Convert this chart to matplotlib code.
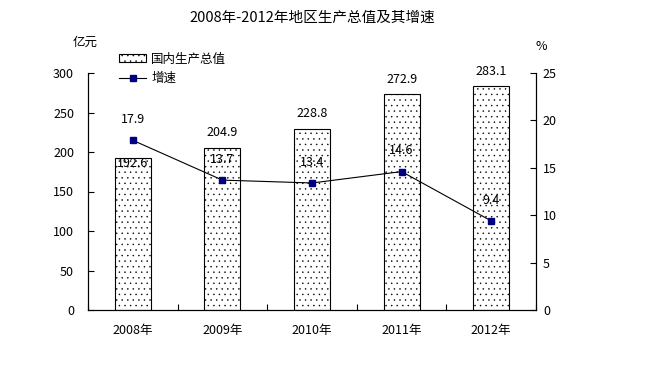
import matplotlib
matplotlib.use("Agg")
import matplotlib.pyplot as plt
import numpy as np
from matplotlib.patches import Patch
from matplotlib.lines import Line2D

plt.rcParams['font.family'] = ['Noto Sans CJK SC', 'DejaVu Sans']
plt.rcParams['hatch.linewidth'] = 0.3

years = ["2008年", "2009年", "2010年", "2011年", "2012年"]
gdp = [192.6, 204.9, 228.8, 272.9, 283.1]
growth = [17.9, 13.7, 13.4, 14.6, 9.4]
gdp_label_offsets = [-4, 11, 11, 11, 11]  # points

fig = plt.figure(figsize=(6.52, 3.68), dpi=100)
ax = fig.add_axes([88/652, 1-310/368, (536-88)/652, (310-73)/368])
x = np.arange(len(years))

ax.bar(x, gdp, width=0.4, facecolor='white', edgecolor='black', linewidth=0.8,
       hatch='...', zorder=2)
ax.set_xlim(-0.5, len(years)-0.5)
ax.set_ylim(0, 300)
ax.set_yticks(np.arange(0, 301, 50))
ax.set_xticks(x)
ax.set_xticklabels(years, fontsize=9)
ax.tick_params(axis='x', length=0, pad=10)
ax.set_xticks(np.arange(-0.5, len(years)), minor=True)
ax.tick_params(axis='x', which='minor', direction='in', length=4, width=0.8)
ax.tick_params(axis='y', direction='in', length=4, width=0.8, labelsize=9, pad=10)
ax.spines['top'].set_visible(False)
for s in ['left', 'bottom', 'right']:
    ax.spines[s].set_linewidth(0.8)

for xi, v, off in zip(x, gdp, gdp_label_offsets):
    ax.annotate(f"{v:.1f}", (xi, v), xytext=(0, off), textcoords='offset points',
                ha='center', va='center', fontsize=9, zorder=5)

ax2 = ax.twinx()
ax2.set_ylim(0, 25)
ax2.set_yticks(np.arange(0, 26, 5))
ax2.tick_params(axis='y', direction='in', length=4, width=0.8, labelsize=9, pad=5)
ax2.spines['top'].set_visible(False)
ax2.spines['right'].set_linewidth(0.8)
ax2.plot(x, growth, color='black', linewidth=0.8, marker='s', markersize=5,
         markerfacecolor='#000080', markeredgecolor='#000080', zorder=3)
for xi, v in zip(x, growth):
    ax2.annotate(f"{v:.1f}", (xi, v), xytext=(0, 15), textcoords='offset points',
                 ha='center', va='center', fontsize=9)

fig.text(312/652, 1-18/368, "2008年-2012年地区生产总值及其增速", ha='center', va='center', fontsize=10.5)
fig.text(85/652, 1-42/368, "亿元", ha='center', va='center', fontsize=9)
fig.text(541/652, 1-46/368, "%", ha='center', va='center', fontsize=9)

handles = [Patch(facecolor='white', edgecolor='black', hatch='...', linewidth=0.8),
           Line2D([], [], color='black', linewidth=0.8, marker='s', markersize=5,
                  markerfacecolor='#000080', markeredgecolor='#000080')]
fig.legend(handles, ["国内生产总值", "增速"], loc='upper left',
           bbox_to_anchor=(110/652, 1-44/368), frameon=False, fontsize=9,
           handlelength=2.2, handleheight=0.6, labelspacing=0.5, borderpad=0.2,
           handletextpad=0.4)

fig.savefig("out.png", dpi=100)
